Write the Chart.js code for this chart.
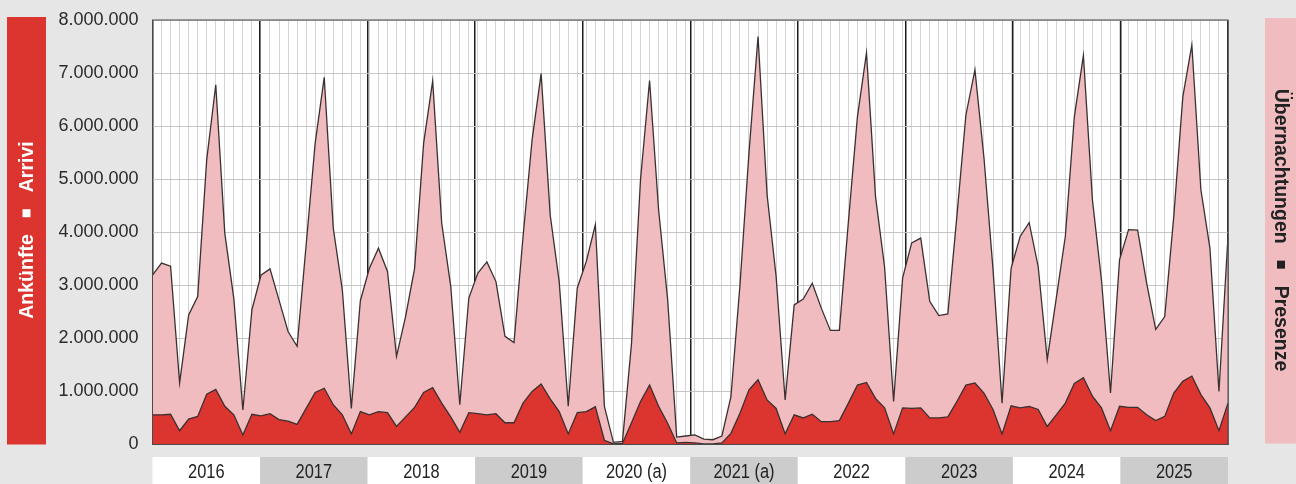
<!DOCTYPE html>
<html>
<head>
<meta charset="utf-8">
<script src="https://cdn.jsdelivr.net/npm/chart.js@4"></script>
<style>
  html, body { margin: 0; padding: 0; background: #e6e6e6; }
  canvas { display: block; }
</style>
</head>
<body>
<canvas id="tourismChart" width="1296" height="484"></canvas>
<script>
// years + months -> 120 monthly categories
const years = ['2016', '2017', '2018', '2019', '2020', '2021', '2022', '2023', '2024', '2025'];
const yearLabels = ['2016', '2017', '2018', '2019', '2020 (a)', '2021 (a)', '2022', '2023', '2024', '2025'];
const monthNames = ['Jan', 'Feb', 'Mär', 'Apr', 'Mai', 'Jun', 'Jul', 'Aug', 'Sep', 'Okt', 'Nov', 'Dez'];
const yTicks = [0, 1000000, 2000000, 3000000, 4000000, 5000000, 6000000, 7000000, 8000000];

// Übernachtungen / Presenze (one row per year)
const uebernachtungen = [
  3190000, 3420000, 3360000, 1160000, 2440000, 2790000, 5370000, 6780000, 3980000, 2750000, 650000, 2540000,
  3190000, 3310000, 2720000, 2130000, 1850000, 3760000, 5680000, 6920000, 4080000, 2920000, 680000, 2710000,
  3320000, 3700000, 3260000, 1660000, 2410000, 3320000, 5680000, 6850000, 4170000, 2980000, 750000, 2760000,
  3230000, 3440000, 3070000, 2040000, 1920000, 3920000, 5740000, 6990000, 4330000, 3070000, 720000, 2950000,
  3450000, 4140000, 720000, 40000, 60000, 1900000, 5000000, 6860000, 4420000, 2730000, 140000, 160000,
  180000, 100000, 90000, 160000, 900000, 3000000, 5500000, 7690000, 4710000, 3170000, 840000, 2630000,
  2740000, 3040000, 2570000, 2150000, 2150000, 4200000, 6180000, 7380000, 4670000, 3350000, 810000, 3140000,
  3800000, 3890000, 2700000, 2430000, 2460000, 4300000, 6210000, 7060000, 5400000, 3300000, 780000, 3320000,
  3920000, 4180000, 3350000, 1600000, 2760000, 3920000, 6180000, 7330000, 4610000, 3100000, 970000, 3480000,
  4050000, 4040000, 3040000, 2170000, 2410000, 4300000, 6550000, 7530000, 4800000, 3700000, 1000000, 3920000
];

// Ankünfte / Arrivi
const ankuenfte = [
  560000, 560000, 570000, 260000, 480000, 530000, 950000, 1040000, 720000, 560000, 180000, 570000,
  540000, 580000, 470000, 440000, 380000, 680000, 980000, 1060000, 750000, 560000, 200000, 620000,
  560000, 620000, 600000, 340000, 520000, 700000, 980000, 1070000, 780000, 520000, 230000, 600000,
  580000, 560000, 580000, 410000, 410000, 780000, 1000000, 1140000, 860000, 620000, 200000, 600000,
  620000, 710000, 80000, 10000, 20000, 410000, 810000, 1120000, 720000, 400000, 30000, 40000,
  30000, 10000, 10000, 30000, 210000, 590000, 1030000, 1220000, 840000, 680000, 200000, 560000,
  500000, 570000, 430000, 430000, 450000, 780000, 1120000, 1170000, 870000, 690000, 200000, 690000,
  680000, 690000, 500000, 500000, 520000, 810000, 1120000, 1160000, 970000, 660000, 200000, 730000,
  690000, 720000, 660000, 340000, 560000, 780000, 1150000, 1260000, 910000, 690000, 260000, 720000,
  700000, 700000, 560000, 450000, 530000, 970000, 1190000, 1290000, 940000, 690000, 260000, 780000
];

const monthLabels = years.flatMap(y => monthNames.map(m => m + ' ' + y));

const RED = '#dc3530';
const PINK = '#f0bcc0';
const LINE = '#3a3030';
const SANS = "'Liberation Sans', Arial, sans-serif";

function fmtDots(v) {
  return String(v).replace(/\B(?=(\d{3})+(?!\d))/g, '.');
}

// background, white plot, alternating year boxes
const backdrop = {
  id: 'backdrop',
  beforeDraw(chart) {
    const { ctx, chartArea: a, scales } = chart;
    ctx.save();
    ctx.fillStyle = '#e6e6e6';
    ctx.fillRect(0, 0, chart.width, chart.height);
    ctx.fillStyle = '#ffffff';
    ctx.fillRect(a.left, a.top, a.width, a.height);
    const yr = scales.x2;
    const w = a.width / yearLabels.length;
    yearLabels.forEach((lab, i) => {
      const cx = yr.getPixelForTick(i);
      ctx.fillStyle = i % 2 ? '#cccccc' : '#ffffff';
      ctx.fillRect(cx - w / 2, 457, w, chart.height - 457);
    });
    ctx.restore();
  }
};

function sideLabel(ctx, cx, cy, angle, parts, color) {
  ctx.save();
  ctx.translate(cx, cy);
  ctx.rotate(angle);
  ctx.font = 'bold 19.5px ' + SANS;
  ctx.fillStyle = color;
  ctx.textBaseline = 'middle';
  ctx.textAlign = 'left';
  const gap = 17, sq = 8;
  const w1 = ctx.measureText(parts[0]).width;
  const w2 = ctx.measureText(parts[1]).width;
  let x = -(w1 + gap * 2 + sq + w2) / 2;
  ctx.fillText(parts[0], x, 1);
  x += w1 + gap;
  ctx.fillRect(x, -sq / 2, sq, sq);
  x += sq + gap;
  ctx.fillText(parts[1], x, 1);
  ctx.restore();
}

const frame = {
  id: 'frame',
  afterDatasetsDraw(chart) {
    const { ctx, chartArea: a } = chart;
    ctx.save();
    ctx.strokeStyle = '#4a4a4a';
    ctx.lineWidth = 1;
    ctx.strokeRect(a.left, a.top, a.width, a.height);
    ctx.restore();
  },
  afterDraw(chart) {
    const { ctx, chartArea: a, scales } = chart;
    ctx.save();
    ctx.fillStyle = RED;
    ctx.fillRect(7, 17, 39, a.bottom - 17);
    ctx.fillStyle = PINK;
    ctx.fillRect(1265, 18, chart.width - 1265, a.bottom - 19);
    // condensed year labels inside the boxes
    ctx.fillStyle = '#222222';
    ctx.font = '20px ' + SANS;
    ctx.textAlign = 'center';
    ctx.textBaseline = 'middle';
    yearLabels.forEach((lab, i) => {
      ctx.save();
      ctx.translate(scales.x2.getPixelForTick(i), 472);
      ctx.scale(0.82, 1);
      ctx.fillText(lab, 0, 0);
      ctx.restore();
    });
    ctx.restore();
    const mid = 230;
    sideLabel(ctx, 26.5, mid, -Math.PI / 2, ['Ankünfte', 'Arrivi'], '#ffffff');
    sideLabel(ctx, 1281, mid, Math.PI / 2, ['Übernachtungen', 'Presenze'], '#222222');
  }
};

new Chart(document.getElementById('tourismChart'), {
  type: 'line',
  data: {
    labels: monthLabels,
    datasets: [
      {
        label: 'Ankünfte',
        data: ankuenfte,
        backgroundColor: RED,
        borderColor: LINE,
        borderWidth: 1.3,
        fill: 'origin',
        pointRadius: 0,
        tension: 0
      },
      {
        label: 'Übernachtungen',
        data: uebernachtungen,
        backgroundColor: PINK,
        borderColor: LINE,
        borderWidth: 1.3,
        fill: 'origin',
        pointRadius: 0,
        tension: 0
      }
    ]
  },
  options: {
    responsive: false,
    animation: false,
    devicePixelRatio: 1,
    layout: { padding: { top: 20, right: 68, left: 0, bottom: 0 } },
    plugins: {
      legend: { display: false },
      tooltip: { enabled: false }
    },
    scales: {
      x: {
        type: 'category',
        offset: false,
        grid: { color: '#d4d4d4', lineWidth: 1, drawTicks: false },
        border: { display: false },
        ticks: { display: false },
        afterFit(s) { s.height = 0; }
      },
      x2: {
        type: 'category',
        labels: yearLabels,
        position: 'bottom',
        offset: true,
        grid: { offset: true, color: '#1e1e1e', lineWidth: 1.5, drawTicks: false },
        border: { display: false },
        ticks: { display: false },
        afterFit(s) { s.height = 39.5; }
      },
      y: {
        min: 0,
        max: 8000000,
        afterBuildTicks(s) { s.ticks = yTicks.map(v => ({ value: v })); },
        grid: { color: '#c6c6c6', lineWidth: 1, drawTicks: false },
        border: { display: false },
        ticks: {
          padding: 14,
          color: '#2a2a2a',
          font: { family: SANS, size: 18 },
          callback: v => fmtDots(v)
        },
        afterFit(s) {
          s.width = 152.5;
          s.paddingTop = 0;
          s.paddingBottom = 0;
        }
      }
    }
  },
  plugins: [backdrop, frame]
});
</script>
</body>
</html>
